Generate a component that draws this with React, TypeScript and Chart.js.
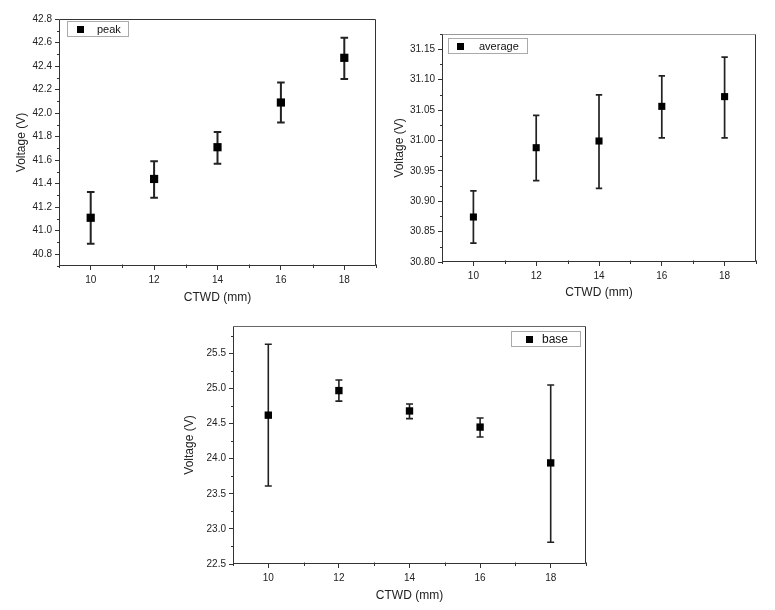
import React, { useEffect, useRef } from "react";
import { Chart, registerables } from "chart.js";

Chart.register(...registerables);

// ---------- data ----------
const ctwd = [10, 12, 14, 16, 18];
const xTicks = [10, 12, 14, 16, 18];

const peakMean = [41.11, 41.44, 41.71, 42.09, 42.47];
const peakHigh = [41.33, 41.59, 41.84, 42.26, 42.64];
const peakLow = [40.89, 41.28, 41.57, 41.92, 42.29];
const peakTicks = [40.8, 41.0, 41.2, 41.4, 41.6, 41.8, 42.0, 42.2, 42.4, 42.6, 42.8];

const avgMean = [30.874, 30.988, 30.999, 31.056, 31.072];
const avgHigh = [30.917, 31.041, 31.075, 31.106, 31.137];
const avgLow = [30.831, 30.934, 30.921, 31.004, 31.004];
const avgTicks = [30.8, 30.85, 30.9, 30.95, 31.0, 31.05, 31.1, 31.15];

const baseMean = [24.62, 24.97, 24.68, 24.45, 23.94];
const baseHigh = [25.63, 25.12, 24.78, 24.58, 25.05];
const baseLow = [23.61, 24.82, 24.57, 24.31, 22.81];
const baseTicks = [22.5, 23.0, 23.5, 24.0, 24.5, 25.0, 25.5];

const xTitle = "CTWD (mm)";
const yTitle = "Voltage (V)";

const FONT = "Arial, 'Liberation Sans', Helvetica, sans-serif";

type PanelCfg = {
  label: string;
  mean: number[];
  high: number[];
  low: number[];
  yTicks: number[];
  decimals: number;
  yMin: number;
  yMax: number;
  box: { left: number; top: number; width: number; height: number };
  area: { l: number; t: number; r: number; b: number };
  yTitlePad: number;
  xTitlePad: number;
  legend: { anchor: "left" | "right"; dx: number; dy: number; w: number; h: number; mDx: number; tDx: number; fs: number };
  markerRadius: number;
  barWidth: number;
  capHalf: number;
  topBorder: string;
};

const panels: PanelCfg[] = [
  {
    label: "peak",
    mean: peakMean,
    high: peakHigh,
    low: peakLow,
    yTicks: peakTicks,
    decimals: 1,
    yMin: 40.7,
    yMax: 42.8,
    box: { left: 0, top: 0, width: 385, height: 310 },
    area: { l: 59, t: 19, r: 376, b: 266 },
    yTitlePad: 14.8,
    xTitlePad: 4.8,
    legend: { anchor: "left", dx: 8, dy: 2, w: 61, h: 15, mDx: 13, tDx: 30, fs: 11 },
    markerRadius: 5.8,
    barWidth: 2,
    capHalf: 3.8,
    topBorder: "#333",
  },
  {
    label: "average",
    mean: avgMean,
    high: avgHigh,
    low: avgLow,
    yTicks: avgTicks,
    decimals: 2,
    yMin: 30.8,
    yMax: 31.175,
    box: { left: 385, top: 20, width: 390, height: 290 },
    area: { l: 57, t: 14, r: 371, b: 242 },
    yTitlePad: 7.8,
    xTitlePad: 10,
    legend: { anchor: "left", dx: 6, dy: 4, w: 79, h: 15, mDx: 12.5, tDx: 31, fs: 11 },
    markerRadius: 5,
    barWidth: 1.7,
    capHalf: 3.2,
    topBorder: "#999",
  },
  {
    label: "base",
    mean: baseMean,
    high: baseHigh,
    low: baseLow,
    yTicks: baseTicks,
    decimals: 1,
    yMin: 22.5,
    yMax: 25.89,
    box: { left: 180, top: 310, width: 420, height: 300 },
    area: { l: 53, t: 16, r: 406, b: 254 },
    yTitlePad: 2.8,
    xTitlePad: 6.8,
    legend: { anchor: "right", dx: 6, dy: 5, w: 69, h: 15, mDx: 18, tDx: 31, fs: 12 },
    markerRadius: 5.2,
    barWidth: 1.6,
    capHalf: 3.5,
    topBorder: "#666",
  },
];

const decorPlugin = {
  id: "decor",
  beforeDatasetsDraw(chart: any) {
    const cfg: PanelCfg = chart.options.plugins.decor.cfg;
    const { ctx, chartArea } = chart;
    const xs = chart.scales.x;
    const ys = chart.scales.y;
    ctx.save();
    // frame
    const L = Math.round(chartArea.left) + 0.5;
    const R = Math.round(chartArea.right) - 0.5;
    const T = Math.round(chartArea.top) + 0.5;
    const B = Math.round(chartArea.bottom) - 0.5;
    ctx.lineWidth = 1;
    ctx.strokeStyle = cfg.topBorder;
    ctx.beginPath();
    ctx.moveTo(L, T);
    ctx.lineTo(R, T);
    ctx.stroke();
    ctx.strokeStyle = "#333";
    ctx.beginPath();
    ctx.moveTo(R, T);
    ctx.lineTo(R, B);
    ctx.lineTo(L, B);
    ctx.lineTo(L, T);
    ctx.stroke();

    // minor ticks on y
    const yt = cfg.yTicks;
    const step = yt[1] - yt[0];
    const minors: number[] = [];
    for (let i = -1; i < yt.length; i++) {
      const v = yt[0] + (i + 0.5) * step;
      if (v >= cfg.yMin - 1e-9 && v <= cfg.yMax + 1e-9) minors.push(v);
    }
    ctx.strokeStyle = "#333";
    minors.forEach((v) => {
      const py = Math.round(ys.getPixelForValue(v)) + 0.5;
      ctx.beginPath();
      ctx.moveTo(L - 2.5, py);
      ctx.lineTo(L, py);
      ctx.stroke();
    });
    // minor ticks on x
    const xstep = xTicks[1] - xTicks[0];
    for (let i = -1; i < xTicks.length; i++) {
      const v = xTicks[0] + (i + 0.5) * xstep;
      if (v < xs.min - 1e-9 || v > xs.max + 1e-9) continue;
      const px = Math.round(xs.getPixelForValue(v)) + 0.5;
      ctx.beginPath();
      ctx.moveTo(px, B - 1);
      ctx.lineTo(px, B + 2.5);
      ctx.stroke();
    }

    // error bars
    ctx.strokeStyle = "#222";
    ctx.lineWidth = cfg.barWidth;
    ctwd.forEach((xv, i) => {
      const px = xs.getPixelForValue(xv);
      const ph = ys.getPixelForValue(cfg.high[i]);
      const pl = ys.getPixelForValue(cfg.low[i]);
      ctx.beginPath();
      ctx.moveTo(px, ph);
      ctx.lineTo(px, pl);
      ctx.moveTo(px - cfg.capHalf, ph);
      ctx.lineTo(px + cfg.capHalf, ph);
      ctx.moveTo(px - cfg.capHalf, pl);
      ctx.lineTo(px + cfg.capHalf, pl);
      ctx.stroke();
    });
    ctx.restore();
  },
  afterDatasetsDraw(chart: any) {
    const cfg: PanelCfg = chart.options.plugins.decor.cfg;
    const { ctx, chartArea } = chart;
    const lg = cfg.legend;
    const bx = lg.anchor === "left" ? chartArea.left + lg.dx : chartArea.right - lg.dx - lg.w;
    const by = chartArea.top + lg.dy;
    ctx.save();
    ctx.fillStyle = "#fff";
    ctx.fillRect(bx, by, lg.w, lg.h);
    ctx.strokeStyle = "#aaa";
    ctx.lineWidth = 1;
    ctx.strokeRect(Math.round(bx) + 0.5, Math.round(by) + 0.5, lg.w, lg.h);
    ctx.fillStyle = "#000";
    const side = 7;
    ctx.fillRect(Math.round(bx + lg.mDx - side / 2), Math.round(by + lg.h / 2 - side / 2) + 1, side, side);
    ctx.fillStyle = "#111";
    ctx.font = `${lg.fs}px ${FONT}`;
    ctx.textBaseline = "middle";
    ctx.textAlign = "left";
    ctx.fillText(chart.data.datasets[0].label, bx + lg.tDx, by + lg.h / 2 + 1);
    ctx.restore();
  },
};

function Panel({ cfg }: { cfg: PanelCfg }) {
  const ref = useRef<HTMLCanvasElement | null>(null);
  useEffect(() => {
    if (!ref.current) return;
    const { box, area } = cfg;
    const chart = new Chart(ref.current, {
      type: "scatter",
      data: {
        datasets: [
          {
            label: cfg.label,
            data: ctwd.map((x, i) => ({ x, y: cfg.mean[i] })),
            pointStyle: "rect",
            pointRadius: cfg.markerRadius,
            pointHoverRadius: cfg.markerRadius,
            backgroundColor: "#000",
            borderColor: "#000",
            borderWidth: 0,
            showLine: false,
          },
        ],
      },
      options: {
        animation: false,
        responsive: false,
        maintainAspectRatio: false,
        devicePixelRatio: 1,
        layout: {
          padding: { left: 0, top: area.t, right: box.width - area.r, bottom: 0 },
        },
        plugins: {
          legend: { display: false },
          tooltip: { enabled: false },
          decor: { cfg },
        } as any,
        scales: {
          x: {
            type: "linear",
            min: 9,
            max: 19,
            afterBuildTicks: (s: any) => {
              s.ticks = xTicks.map((v) => ({ value: v }));
            },
            afterFit: (s: any) => {
              s.height = box.height - area.b;
            },
            grid: {
              display: true,
              drawOnChartArea: false,
              drawTicks: true,
              tickLength: 4,
              tickColor: "#333",
              tickWidth: 1,
            },
            border: { display: false },
            ticks: {
              autoSkip: false,
              maxRotation: 0,
              padding: 4,
              color: "#222",
              font: { family: FONT, size: 10 },
              callback: (v: any) => String(v),
            },
            title: {
              display: true,
              text: xTitle,
              color: "#222",
              font: { family: FONT, size: 12 },
              padding: { top: 0, bottom: cfg.xTitlePad },
            },
          },
          y: {
            type: "linear",
            min: cfg.yMin,
            max: cfg.yMax,
            afterBuildTicks: (s: any) => {
              s.ticks = cfg.yTicks.map((v) => ({ value: v }));
            },
            afterFit: (s: any) => {
              s.width = area.l;
            },
            grid: {
              display: true,
              drawOnChartArea: false,
              drawTicks: true,
              tickLength: 4,
              tickColor: "#333",
              tickWidth: 1,
            },
            border: { display: false },
            ticks: {
              autoSkip: false,
              padding: 3,
              color: "#222",
              font: { family: FONT, size: 10 },
              callback: (v: any) => Number(v).toFixed(cfg.decimals),
            },
            title: {
              display: true,
              text: yTitle,
              color: "#222",
              font: { family: FONT, size: 12 },
              padding: { top: cfg.yTitlePad, bottom: 0 },
            },
          },
        },
      } as any,
      plugins: [decorPlugin],
    });
    return () => chart.destroy();
  }, [cfg]);

  return (
    <canvas
      ref={ref}
      width={cfg.box.width}
      height={cfg.box.height}
      style={{
        position: "absolute",
        left: cfg.box.left,
        top: cfg.box.top,
        width: cfg.box.width,
        height: cfg.box.height,
      }}
    />
  );
}

export default function App() {
  return (
    <div
      style={{
        position: "absolute",
        left: 0,
        top: 0,
        width: 775,
        height: 610,
        background: "#fff",
        overflow: "hidden",
      }}
    >
      {panels.map((p) => (
        <Panel key={p.label} cfg={p} />
      ))}
    </div>
  );
}
